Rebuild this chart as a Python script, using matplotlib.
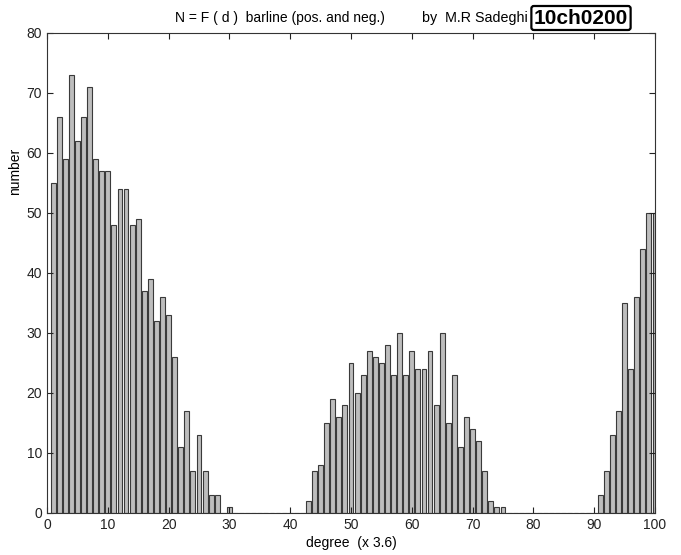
import numpy as np
import matplotlib.pyplot as plt

# bin positions (degree / 3.6) and counts
degree = list(range(1, 101))
counts = [55, 66, 59, 73, 62, 66, 71, 59, 57, 57,
          48, 54, 54, 48, 49, 37, 39, 32, 36, 33,
          26, 11, 17, 7, 13, 7, 3, 3, 0, 1,
          0, 0, 0, 0, 0, 0, 0, 0, 0, 0,
          0, 0, 2, 7, 8, 15, 19, 16, 18, 25,
          20, 23, 27, 26, 25, 28, 23, 30, 23, 27,
          24, 24, 27, 18, 30, 15, 23, 11, 16, 14,
          12, 7, 2, 1, 1, 0, 0, 0, 0, 0,
          0, 0, 0, 0, 0, 0, 0, 0, 0, 0,
          3, 7, 13, 17, 35, 24, 36, 44, 50, 50]

plt.rcParams['font.family'] = ['Liberation Sans', 'DejaVu Sans']

fig = plt.figure(figsize=(6.81, 5.55), dpi=100)
ax = fig.add_axes([47/681, 1-513/555, (655-47)/681, (513-33)/555])

ax.bar(degree, counts, width=0.8, color='#bdbdbd', edgecolor='#3a3a3a', linewidth=0.8)

ax.set_xlim(0, 100)
ax.set_ylim(0, 80)
ax.set_xticks(np.arange(0, 101, 10))
ax.set_yticks(np.arange(0, 81, 10))
ax.tick_params(direction='in', top=True, right=True, labelsize=10, length=4, colors='#222222')
for s in ax.spines.values():
    s.set_color('#333333')

fig.text(351/681, 1-543/555, "degree  (x 3.6)", ha='center', va='center', fontsize=10)
fig.text(15/681, 1-171/555, "number", rotation=90, ha='center', va='center', fontsize=10)

# header line
fig.text(175/681, 1-18/555, "N = F ( d )  barline (pos. and neg.)",
         ha='left', va='center', fontsize=10)
fig.text(422/681, 1-18/555, "by  M.R Sadeghi", ha='left', va='center', fontsize=10.3)
fig.text(581/681, 1-18/555, "10ch0200", ha='center', va='center', fontsize=15, fontweight='bold',
         bbox=dict(boxstyle='round,pad=0.12', facecolor='white', edgecolor='black', linewidth=1.6))

fig.savefig("out.png", dpi=100)
